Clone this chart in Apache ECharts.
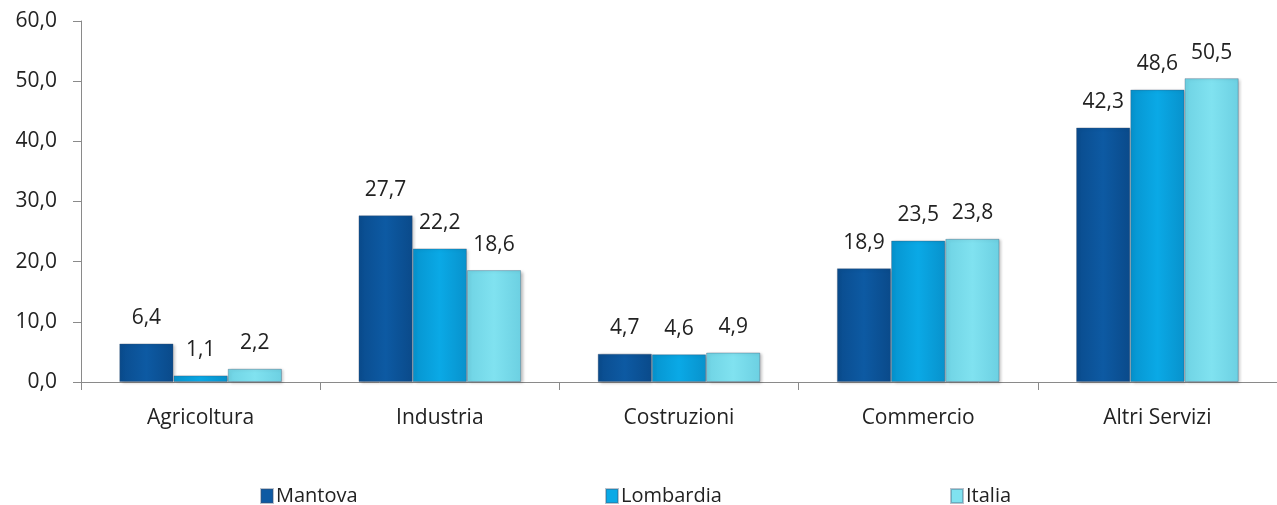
<!DOCTYPE html>
<html>
<head>
<meta charset="utf-8">
<script src="https://cdn.jsdelivr.net/npm/echarts@6/dist/echarts.min.js"></script>
<style>html,body{margin:0;padding:0;background:#fff}#c{width:1277px;height:505px}</style>
</head>
<body>
<div id="c"></div>
<script>
const categories = ['Agricoltura', 'Industria', 'Costruzioni', 'Commercio', 'Altri Servizi'];
const mantova = [6.4, 27.7, 4.7, 18.9, 42.3];
const lombardia = [1.1, 22.2, 4.6, 23.5, 48.6];
const italia = [2.2, 18.6, 4.9, 23.8, 50.5];
const seriesNames = ['Mantova', 'Lombardia', 'Italia'];

const fmt = v => Number(v).toFixed(1).replace('.', ',');
const FONT = 'Open Sans';
function grad(c1, c2, c3) {
  return new echarts.graphic.LinearGradient(0, 0, 1, 0, [
    {offset: 0, color: c1}, {offset: 0.5, color: c2}, {offset: 1, color: c3}
  ]);
}
const colors = [
  grad('#0a4c8e', '#0d5aa3', '#0a4a8a'),
  grad('#0694cf', '#0aa9e6', '#0892cc'),
  grad('#6fd3e4', '#80e2f0', '#6cd0e2')
];
const legendColors = ['#0d5aa3', '#0aa9e6', '#80e2f0'];
const data = [mantova, lombardia, italia];

const chart = echarts.init(document.getElementById('c'));
chart.setOption({
  animation: false,
  textStyle: {fontFamily: FONT},
  grid: {left: 81, right: 0, top: 21, bottom: 123, containLabel: false},
  legend: seriesNames.map((n, i) => ({
    data: [{name: n, itemStyle: {color: legendColors[i]}}],
    left: [255, 600, 945][i],
    top: 481,
    itemWidth: 12, itemHeight: 14, itemGap: 4,
    icon: 'rect',
    textStyle: {fontFamily: FONT, fontSize: 20, color: '#222', padding: [0, 0, 0, -2]}
  })),
  xAxis: {
    type: 'category',
    data: categories,
    axisLine: {lineStyle: {color: '#8a8a8a', width: 1}},
    axisTick: {show: true, alignWithLabel: false, length: 8, lineStyle: {color: '#8a8a8a'}},
    axisLabel: {fontFamily: FONT, fontSize: 21, color: '#222', margin: 26}
  },
  yAxis: {
    type: 'value', min: 0, max: 60, interval: 10,
    axisLine: {show: true, lineStyle: {color: '#8a8a8a', width: 1}},
    axisTick: {show: true, length: 8, lineStyle: {color: '#8a8a8a'}},
    splitLine: {show: false},
    axisLabel: {fontFamily: FONT, fontSize: 21, color: '#222', margin: 24, formatter: fmt}
  },
  series: seriesNames.map((n, i) => ({
    name: n,
    type: 'bar',
    data: data[i],
    barGap: '0%',
    barCategoryGap: '32%',
    itemStyle: {color: colors[i], borderColor: 'rgba(60,80,110,0.35)', borderWidth: 1,
      shadowColor: 'rgba(0,0,0,0.25)', shadowBlur: 3, shadowOffsetX: 2, shadowOffsetY: 1},
    label: {show: true, position: 'top', distance: 15, fontFamily: FONT, fontSize: 21, color: '#222',
      formatter: p => fmt(p.value)}
  }))
});
</script>
</body>
</html>
